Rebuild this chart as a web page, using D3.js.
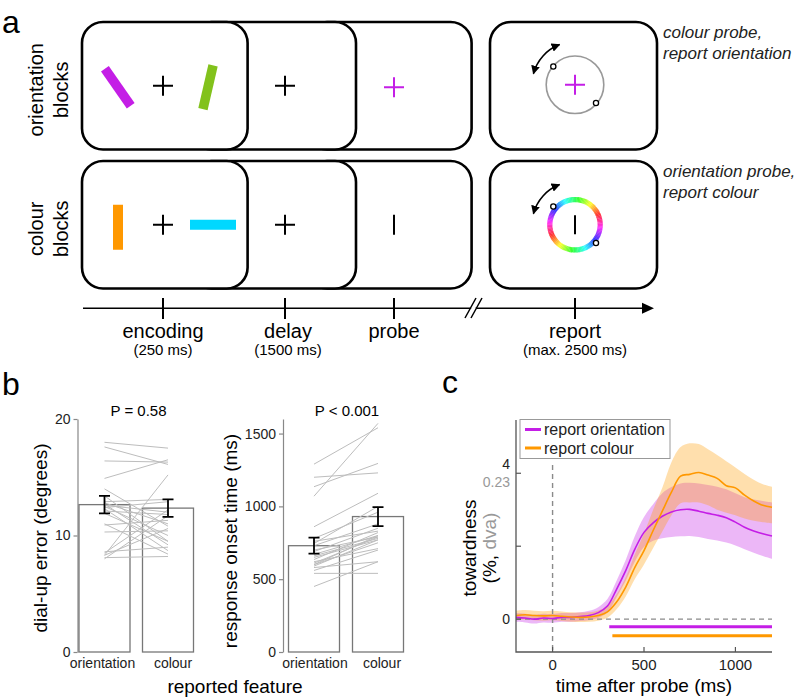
<!DOCTYPE html>
<html><head><meta charset="utf-8">
<script src="https://cdn.jsdelivr.net/npm/d3@7"></script>
<style>body{margin:0;background:#fff}svg{display:block}text{font-family:"Liberation Sans",Arial,Helvetica,sans-serif}</style>
</head><body><svg id="fig" width="800" height="700"></svg>
<script>
// ================= DATA =================
const events = ["encoding", "delay", "probe", "report"];
const eventDurations = ["(250 ms)", "(1500 ms)", "", "(max. 2500 ms)"];
const blockNames = [["orientation", "blocks"], ["colour", "blocks"]];
const blockNotes = [["colour probe,", "report orientation"], ["orientation probe,", "report colour"]];

const features = ["orientation", "colour"];
const errMean = [12.65, 12.35];
const errSem = [0.75, 0.75];
const errSubjOri = [18.0, 17.6, 16.4, 14.9, 14.0, 13.4, 12.9, 12.8, 12.7, 12.6, 12.5, 12.4, 12.3, 12.1, 11.9, 11.0, 10.3, 10.9, 8.6, 8.5, 8.3, 8.3, 8.1, 8.0];
const errSubjCol = [17.5, 16.1, 16.3, 16.5, 10.8, 9.5, 13.1, 11.0, 9.2, 12.0, 10.0, 12.9, 8.7, 11.8, 9.5, 8.4, 10.4, 11.3, 9.0, 12.2, 15.2, 10.6, 8.2, 11.7];
const errTicks = [0, 10, 20];
const rtMean = [730, 930];
const rtSem = [55, 65];
const rtSubjOri = [1290, 1070, 1200, 1135, 860, 780, 760, 745, 730, 700, 690, 670, 660, 650, 635, 620, 610, 600, 590, 580, 560, 540, 450, 600];
const rtSubjCol = [1540, 1570, 1230, 1295, 1090, 960, 830, 1000, 880, 790, 850, 800, 780, 770, 820, 710, 790, 750, 770, 620, 700, 540, 620, 800];
const rtTicks = [0, 500, 1000, 1500];
const pLabels = ["P = 0.58", "P < 0.001"];

const timeMs = [-200, -150, -100, -50, 0, 50, 100, 150, 200, 250, 300, 350, 400, 450, 500, 550, 600, 650, 700, 750, 800, 850, 900, 950, 1000, 1050, 1100, 1150, 1200];
const oriMean = [0.05, 0.03, 0.0, 0.03, 0.02, 0.05, 0.05, 0.07, 0.1, 0.18, 0.36, 0.82, 1.33, 1.92, 2.38, 2.64, 2.82, 2.94, 3.0, 3.01, 2.96, 2.9, 2.85, 2.78, 2.66, 2.52, 2.42, 2.34, 2.28];
const oriLo = [-0.07, -0.09, -0.12, -0.09, -0.1, -0.07, -0.07, -0.05, -0.03, 0.04, 0.18, 0.6, 1.05, 1.58, 1.98, 2.15, 2.22, 2.25, 2.27, 2.28, 2.25, 2.2, 2.16, 2.1, 2.02, 1.92, 1.82, 1.73, 1.65];
const oriHi = [0.17, 0.15, 0.12, 0.15, 0.14, 0.17, 0.17, 0.19, 0.23, 0.33, 0.55, 1.05, 1.62, 2.28, 2.8, 3.15, 3.45, 3.62, 3.72, 3.74, 3.72, 3.68, 3.63, 3.56, 3.45, 3.34, 3.28, 3.24, 3.2];
const colMean = [0.1, 0.12, 0.1, 0.09, 0.1, 0.08, 0.06, 0.05, 0.06, 0.1, 0.2, 0.47, 0.88, 1.42, 1.88, 2.43, 2.96, 3.48, 3.92, 3.97, 4.02, 3.95, 3.86, 3.66, 3.6, 3.4, 3.24, 3.12, 3.07];
const colLo = [-0.03, -0.01, -0.03, -0.04, -0.03, -0.05, -0.07, -0.08, -0.07, -0.04, 0.04, 0.27, 0.62, 1.1, 1.5, 1.95, 2.4, 2.85, 3.18, 3.2, 3.2, 3.12, 3.0, 2.92, 2.85, 2.76, 2.7, 2.66, 2.63];
const colHi = [0.23, 0.25, 0.23, 0.22, 0.23, 0.21, 0.19, 0.18, 0.19, 0.24, 0.36, 0.68, 1.15, 1.78, 2.35, 3.0, 3.6, 4.3, 4.72, 4.82, 4.8, 4.66, 4.5, 4.33, 4.16, 3.98, 3.82, 3.7, 3.63];
const sigStartMs = [310, 327];
const sigEndMs = [1200, 1200];
const timeTicks = [0, 500, 1000];
const towardTicks = [0, 2, 4];
const towardLabels = ["0", "", "4"];
const seriesNames = ["report orientation", "report colour"];

// ================= STYLE =================
const MAG = "#c41ee6", ORA = "#ff9800", GRN = "#82c21c", CYA = "#00d8ff";
const svg = d3.select("#fig");
const defs = svg.append("defs");
defs.append("marker").attr("id", "ah").attr("viewBox", "0 0 10 10").attr("refX", 9).attr("refY", 5)
  .attr("markerWidth", 5.5).attr("markerHeight", 5.5).attr("orient", "auto-start-reverse")
  .append("path").attr("d", "M0,0 L10,5 L0,10 Z").attr("fill", "#000");

// panel letters
[["a", 2, 33], ["b", 2, 395], ["c", 442, 393]].forEach(([t, x, y]) =>
  svg.append("text").attr("x", x).attr("y", y).attr("font-size", 32).text(t));

// ================= PANEL A =================
const A = svg.append("g");
const boxW = 165.6, boxH = 127.5, rowTop = [22, 161], boxLefts = [306, 190.4, 82];
const reportX = 490, reportW = 167;
const crossX = [163, 285, 394];

function cross(g, cx, cy, col) {
  g.append("path").attr("d", `M${cx - 10},${cy}H${cx + 10}M${cx},${cy - 10}V${cy + 10}`)
    .attr("stroke", col).attr("stroke-width", 2).attr("fill", "none");
}
function bar(g, cx, cy, w, h, ang, col) {
  g.append("rect").attr("x", -w / 2).attr("y", -h / 2).attr("width", w).attr("height", h)
    .attr("fill", col).attr("transform", `translate(${cx},${cy}) rotate(${ang})`);
}
function dialDots(g, cx, cy) {
  [[-21.7, -18.3], [21, 18.3]].forEach(([dx, dy]) =>
    g.append("circle").attr("cx", cx + dx).attr("cy", cy + dy).attr("r", 2.6)
      .attr("fill", "#fff").attr("stroke", "#000").attr("stroke-width", 1.3));
  const r = 43;
  const a0 = Math.atan2(-11.5, -43), a1 = Math.atan2(-39, -15);
  g.append("path")
    .attr("d", `M${cx + r * Math.cos(a0)},${cy + r * Math.sin(a0)} A${r},${r} 0 0 1 ${cx + r * Math.cos(a1)},${cy + r * Math.sin(a1)}`)
    .attr("fill", "none").attr("stroke", "#000").attr("stroke-width", 1.6)
    .attr("marker-start", "url(#ah)").attr("marker-end", "url(#ah)");
}

rowTop.forEach((top, ri) => {
  const cy = top + boxH / 2;
  boxLefts.forEach(x0 => A.append("rect").attr("x", x0).attr("y", top).attr("width", boxW).attr("height", boxH)
    .attr("rx", 21).attr("fill", "#fff").attr("stroke", "#000").attr("stroke-width", 2.6));
  A.append("rect").attr("x", reportX).attr("y", top).attr("width", reportW).attr("height", boxH)
    .attr("rx", 21).attr("fill", "#fff").attr("stroke", "#000").attr("stroke-width", 2.6);
  cross(A, crossX[0], cy, "#000");
  cross(A, crossX[1], cy, "#000");
  blockNames[ri].forEach((s, li) => A.append("text").attr("transform", `translate(${43 + li * 25},${cy + 4}) rotate(-90)`)
    .attr("text-anchor", "middle").attr("font-size", 20).text(s));
  blockNotes[ri].forEach((s, li) => A.append("text").attr("x", 663).attr("y", top + 16 + li * 21)
    .attr("font-size", 17).attr("font-style", "italic").attr("fill", "#222").text(s));
  const rc = 575;
  if (ri === 0) {
    bar(A, 117.8, cy + 1.5, 9.5, 45, -35, MAG);
    bar(A, 208, cy + 1.5, 9.5, 45, 13, GRN);
    cross(A, crossX[2], cy + 1.5, MAG);
    A.append("circle").attr("cx", rc).attr("cy", cy - 1).attr("r", 28.8).attr("fill", "none").attr("stroke", "#999").attr("stroke-width", 1.6);
    cross(A, rc, cy - 1, MAG);
    dialDots(A, rc, cy - 1);
  } else {
    bar(A, 118, cy + 2.5, 10, 45, 0, ORA);
    bar(A, 213, cy, 46, 10, 0, CYA);
    A.append("path").attr("d", `M${crossX[2]},${cy - 10}V${cy + 10}`).attr("stroke", "#000").attr("stroke-width", 2);
    const arc = d3.arc().innerRadius(22.6).outerRadius(27.8);
    const nSeg = 120;
    for (let i = 0; i < nSeg; i++) {
      const a = i * 2 * Math.PI / nSeg;
      const deg = a * 180 / Math.PI;
      const hue = ((130 - 2 * deg) % 360 + 360) % 360;
      A.append("path").attr("transform", `translate(${rc},${cy})`)
        .attr("d", arc({ startAngle: a, endAngle: a + 2 * Math.PI / nSeg + 0.01 }))
        .attr("fill", d3.hsl(hue, 1, 0.6).formatHex());
    }
    A.append("path").attr("d", `M${rc},${cy - 9.5}V${cy + 9.5}`).attr("stroke", "#000").attr("stroke-width", 2);
    dialDots(A, rc, cy);
  }
});

// timeline
const tlY = 308.3, tickXs = [163, 285, 394, 575];
A.append("path").attr("d", `M83,${tlY}H645`).attr("stroke", "#000").attr("stroke-width", 1.5);
A.append("path").attr("d", `M642,${tlY - 5.5}L654,${tlY}L642,${tlY + 5.5}Z`).attr("fill", "#000");
A.append("path").attr("d", `M469,${tlY - 3}L474,${tlY - 3}L478,${tlY + 3}L473,${tlY + 3}Z`).attr("fill", "#fff");
A.append("path").attr("d", `M465,318L476,298M471,318L482,298`).attr("stroke", "#000").attr("stroke-width", 1.5);
events.forEach((ev, i) => {
  const x = tickXs[i];
  A.append("path").attr("d", `M${x},298V319`).attr("stroke", "#000").attr("stroke-width", 2);
  A.append("text").attr("x", x + (i === 1 ? 3 : 0)).attr("y", 338).attr("text-anchor", "middle").attr("font-size", 20).text(ev);
  if (eventDurations[i]) A.append("text").attr("x", x + (i === 1 ? 3 : 0)).attr("y", 355).attr("text-anchor", "middle").attr("font-size", 15).text(eventDurations[i]);
});

// ================= PANEL B =================
function barPanel(opt) {
  const g = svg.append("g");
  const y = d3.scaleLinear().domain(opt.domain).range([652, 419]);
  const x = d3.scalePoint().domain(features).range(opt.xr);
  const ax = g.append("g").attr("transform", `translate(${opt.axisX},0)`)
    .call(d3.axisLeft(y).tickValues(opt.ticks).tickFormat(d3.format("d")).tickSize(4).tickSizeOuter(0).tickPadding(3));
  ax.select(".domain").attr("stroke", "#888").attr("stroke-width", 1.2);
  ax.selectAll(".tick line").attr("stroke", "#888").attr("stroke-width", 1.2);
  ax.selectAll(".tick text").attr("font-size", 14).attr("fill", "#222").attr("font-family", "Liberation Sans, Arial, sans-serif");
  const bw = 51;
  g.selectAll("rect.bar").data(features).join("rect").attr("class", "bar")
    .attr("x", d => x(d) - bw / 2).attr("width", bw)
    .attr("y", (d, i) => y(opt.mean[i])).attr("height", (d, i) => y(0) - y(opt.mean[i]))
    .attr("fill", "#fff").attr("stroke", "#777").attr("stroke-width", 1.3);
  g.selectAll("line.subj").data(opt.ori.map((v, i) => [v, opt.col[i]])).join("line").attr("class", "subj")
    .attr("x1", x(features[0])).attr("x2", x(features[1]))
    .attr("y1", d => y(d[0])).attr("y2", d => y(d[1]))
    .attr("stroke", "#bdbdbd").attr("stroke-width", 1);
  features.forEach((f, i) => {
    const cx = x(f), lo = y(opt.mean[i] - opt.sem[i]), hi = y(opt.mean[i] + opt.sem[i]);
    g.append("path").attr("d", `M${cx},${lo}V${hi}M${cx - 5.5},${lo}H${cx + 5.5}M${cx - 5.5},${hi}H${cx + 5.5}`)
      .attr("stroke", "#000").attr("stroke-width", 1.8).attr("fill", "none");
    g.append("text").attr("x", cx + opt.lblShift[i]).attr("y", 668).attr("text-anchor", "middle").attr("font-size", 14).attr("fill", "#222").text(f);
  });
  g.append("text").attr("x", opt.pX).attr("y", 416).attr("text-anchor", "middle").attr("font-size", 15).text(opt.p);
  g.append("text").attr("transform", `translate(${opt.ylX},${opt.ylY}) rotate(-90)`).attr("text-anchor", "middle").attr("font-size", 19).text(opt.ylab);
}
barPanel({ domain: [0, 20], ticks: errTicks, axisX: 77.5, xr: [104.5, 168], mean: errMean, sem: errSem,
  ori: errSubjOri, col: errSubjCol, p: pLabels[0], pX: 138.5, ylab: "dial-up error (degrees)", ylX: 47, ylY: 538, lblShift: [-2, 5] });
barPanel({ domain: [0, 1600], ticks: rtTicks, axisX: 283, xr: [314, 378], mean: rtMean, sem: rtSem,
  ori: rtSubjOri, col: rtSubjCol, p: pLabels[1], pX: 347, ylab: "response onset time (ms)", ylX: 237, ylY: 541, lblShift: [1, 4] });
svg.append("text").attr("x", 235).attr("y", 693).attr("text-anchor", "middle").attr("font-size", 19).text("reported feature");

// ================= PANEL C =================
const C = svg.append("g");
const xs = d3.scaleLinear().domain([-200, 1200]).range([516, 772]);
const ys = d3.scaleLinear().domain([-0.9, 5.46]).range([652, 420]);
const area = (lo, hi) => d3.area().x((d, i) => xs(timeMs[i])).y0((d, i) => ys(lo[i])).y1((d, i) => ys(hi[i])).curve(d3.curveCatmullRom)(timeMs);
const line = m => d3.line().x((d, i) => xs(timeMs[i])).y((d, i) => ys(m[i])).curve(d3.curveCatmullRom)(timeMs);
C.append("path").attr("d", area(oriLo, oriHi)).attr("fill", MAG).attr("fill-opacity", 0.32);
C.append("path").attr("d", area(colLo, colHi)).attr("fill", "#ff9a00").attr("fill-opacity", 0.32);
C.append("line").attr("x1", xs(0)).attr("x2", xs(0)).attr("y1", 465).attr("y2", 652)
  .attr("stroke", "#8a8a8a").attr("stroke-width", 1.4).attr("stroke-dasharray", "5,4");
C.append("line").attr("x1", xs(-200)).attr("x2", xs(1200)).attr("y1", ys(0)).attr("y2", ys(0))
  .attr("stroke", "#8a8a8a").attr("stroke-width", 1.4).attr("stroke-dasharray", "5,4");
C.append("path").attr("d", line(oriMean)).attr("fill", "none").attr("stroke", MAG).attr("stroke-width", 1.6);
C.append("path").attr("d", line(colMean)).attr("fill", "none").attr("stroke", ORA).attr("stroke-width", 1.6);
[MAG, ORA].forEach((col, i) => C.append("line").attr("x1", xs(sigStartMs[i])).attr("x2", xs(sigEndMs[i]))
  .attr("y1", 626.7 + i * 9).attr("y2", 626.7 + i * 9).attr("stroke", col).attr("stroke-width", 3));
C.append("path").attr("d", `M${xs(-200)},${ys(5.46)}V${ys(-0.9)}H${xs(1200)}`).attr("fill", "none").attr("stroke", "#555").attr("stroke-width", 1.3);
towardTicks.forEach((v, i) => {
  C.append("line").attr("x1", xs(-200)).attr("x2", xs(-200) + 5).attr("y1", ys(v)).attr("y2", ys(v)).attr("stroke", "#555").attr("stroke-width", 1.2);
  if (towardLabels[i]) C.append("text").attr("x", 510).attr("y", ys(v) + (v === 0 ? 5 : -4.5)).attr("text-anchor", "end").attr("font-size", 14).attr("fill", "#222").text(towardLabels[i]);
});
C.append("text").attr("x", 510).attr("y", ys(4) + 14).attr("text-anchor", "end").attr("font-size", 14).attr("fill", "#999").text("0.23");
timeTicks.forEach(t => {
  C.append("line").attr("x1", xs(t)).attr("x2", xs(t)).attr("y1", 652).attr("y2", 647).attr("stroke", "#555").attr("stroke-width", 1.2);
  C.append("text").attr("x", xs(t)).attr("y", 670).attr("text-anchor", "middle").attr("font-size", 15).attr("fill", "#222").text(t);
});
C.append("text").attr("x", 644).attr("y", 692).attr("text-anchor", "middle").attr("font-size", 19).text("time after probe (ms)");
C.append("text").attr("transform", "translate(476,548) rotate(-90)").attr("text-anchor", "middle").attr("font-size", 19).text("towardness");
const t2 = C.append("text").attr("transform", "translate(496,548) rotate(-90)").attr("text-anchor", "middle").attr("font-size", 19);
t2.append("tspan").text("(%, ");
t2.append("tspan").attr("fill", "#999").text("dva)");
const L = C.append("g");
L.append("rect").attr("x", 520).attr("y", 419.5).attr("width", 150).attr("height", 39).attr("fill", "#fff").attr("stroke", "#999").attr("stroke-width", 1);
[MAG, ORA].forEach((col, i) => {
  const yy = 429.5 + i * 18.5;
  L.append("line").attr("x1", 525).attr("x2", 541).attr("y1", yy).attr("y2", yy).attr("stroke", col).attr("stroke-width", 3);
  L.append("text").attr("x", 544).attr("y", yy + 5.5).attr("font-size", 16).attr("fill", "#222").text(seriesNames[i]);
});
</script></body></html>
